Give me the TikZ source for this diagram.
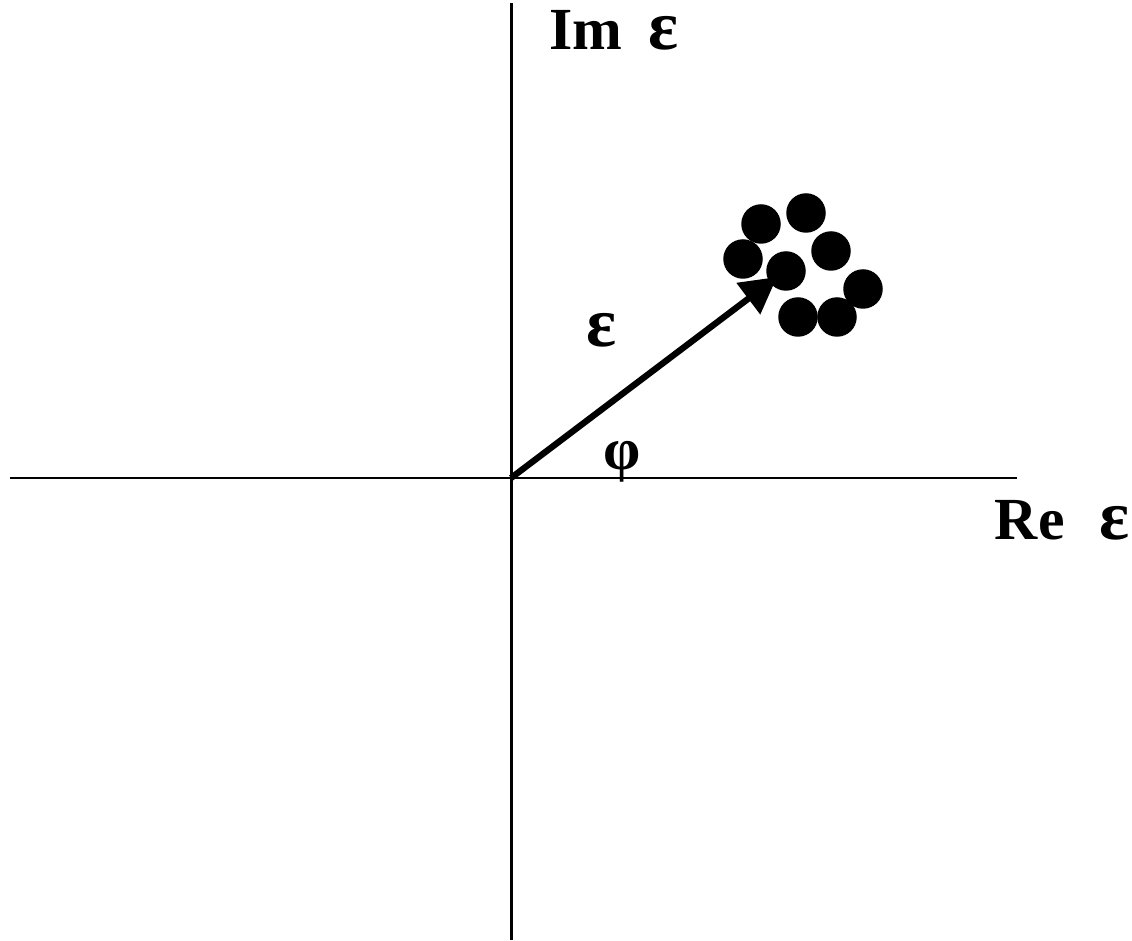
\documentclass[tikz,border=0pt]{standalone}
\usepackage{fontspec}
\setmainfont{Liberation Serif}
\usetikzlibrary{arrows.meta, positioning}
\newcommand{\epsl}{{\fontsize{40}{40}\selectfont ε}}
\tikzset{
  every picture/.style={font=\bfseries\fontsize{34}{40}\selectfont},
  axis/.style={draw=black, line width=1.7pt},
  vec/.style={-{Triangle[length=0.72cm, width=0.76cm]}, draw=black, line width=3.6pt},
  dot/.style={circle, fill=black, minimum size=0.79cm, inner sep=0pt},
  lbl/.style={inner sep=0pt, anchor=base},
}

\begin{document}
\begin{tikzpicture}[x=0.02cm, y=0.02cm]
  \useasboundingbox (0,0) rectangle (1132,940);
  % axes
  \coordinate (O) at (511,462);
  \coordinate (top) at (511,937);
  \coordinate (bot) at (511,0);
  \coordinate (left) at (10,462);
  \coordinate (right) at (1017,462);
  \draw[axis] (bot) -- (top);
  \draw[axis] (left) -- (right);
  \node[lbl, anchor=base west] (im) at (549,890) {Im\hspace{0.52cm}\epsl};
  \node[lbl, anchor=base east] (re) at (1130,400) {Re\hspace{0.7cm}\epsl};
  % cluster of points
  \foreach \n/\x/\y in {a/761/716, b/806/727, c/743/681, d/786/669,
                        e/831/689, f/863/651, g/798/623, h/837/623} {
    \node[dot] (p\n) at (\x,\y) {};
  }
  % vector
  \coordinate (tip) at (777,663);
  \draw[vec] (O) -- (tip);
  \node[lbl] (eps) at (602,593) {\epsl};
  \node[lbl] (phi) at (622,470) {φ};
\end{tikzpicture}
\end{document}
